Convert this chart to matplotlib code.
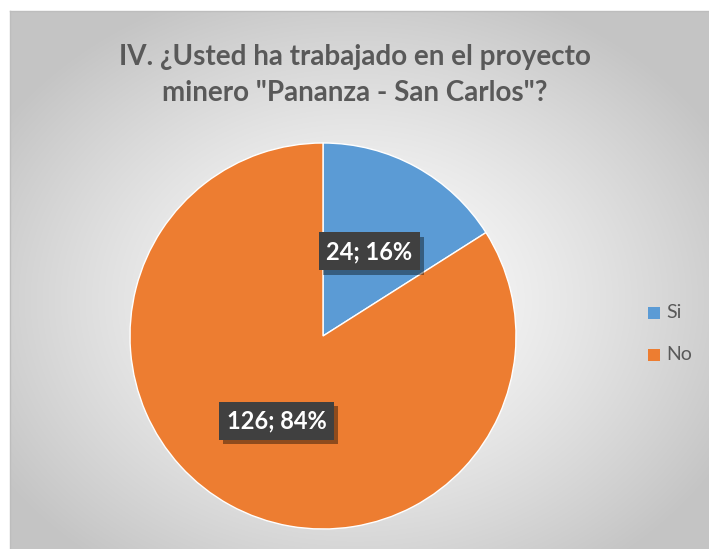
import numpy as np
import matplotlib.pyplot as plt
import matplotlib.patheffects as pe
from matplotlib.patches import Rectangle

plt.rcParams['font.family'] = ['Lato', 'DejaVu Sans']

categories = ["Si", "No"]
counts = [24, 126]
percents = [16, 84]
colors = ["#5B9BD5", "#ED7D31"]
title = 'IV. ¿Usted ha trabajado en el proyecto\nminero "Pananza - San Carlos"?'

W, H = 709, 549
fig = plt.figure(figsize=(W / 100, H / 100), dpi=100)

# background: radial gray gradient inside a frame
bg = fig.add_axes([0, 0, 1, 1])
bg.set_xlim(0, W)
bg.set_ylim(H, 0)
bg.axis('off')
yy, xx = np.mgrid[0:H, 0:W]
d = np.sqrt(((xx - 355) / 420.0) ** 2 + ((yy - 300) / 330.0) ** 2)
d = np.clip(d, 0, 1)
shade = 1.0 - 0.23 * d ** 1.3
img = np.dstack([shade, shade, shade])
img[:11, :, :] = 1.0
img[:, :10, :] = 1.0
bg.imshow(img, extent=(0, W, H, 0), interpolation='bilinear', aspect='auto')
bg.plot([10, W], [11, 11], color='#bdbdbd', lw=1)
bg.plot([10, 10], [11, H], color='#bdbdbd', lw=1)

fig.text(355 / W, 1 - 75 / H, title, ha='center', va='center', fontsize=20,
         fontweight='bold', color='#595959', linespacing=1.45)

# pie
cx, cy, r = 323, 336, 193
ax = fig.add_axes([(cx - r) / W, 1 - (cy + r) / H, 2 * r / W, 2 * r / H])
labels = [f"{c}; {p}%" for c, p in zip(counts, percents)]
wedges, texts = ax.pie(counts, colors=colors, startangle=90, counterclock=False,
                       labels=labels, labeldistance=0.5,
                       wedgeprops=dict(edgecolor='white', linewidth=1))
for t in texts:
    t.set_ha('center')
    t.set_va('center')
    t.set_color('white')
    t.set_fontsize(17)
    t.set_fontweight('bold')
    t.set_bbox(dict(boxstyle='square,pad=0.32', facecolor='#404040',
                    edgecolor='none'))
    t.get_bbox_patch().set_path_effects([
        pe.SimplePatchShadow(offset=(3, -3), shadow_rgbFace='black', alpha=0.4),
        pe.Normal()])
ax.set_xlim(-1, 1)
ax.set_ylim(-1, 1)
ax.set_aspect('equal')

# legend
for i, (lab, col) in enumerate(zip(categories, colors)):
    y = 313 + i * 42
    bg.add_patch(Rectangle((648, y - 6), 12, 12, facecolor=col, edgecolor='none'))
    bg.text(666, y, lab, fontsize=14, color='#595959', va='center', ha='left')

fig.savefig('out.png', dpi=100)
